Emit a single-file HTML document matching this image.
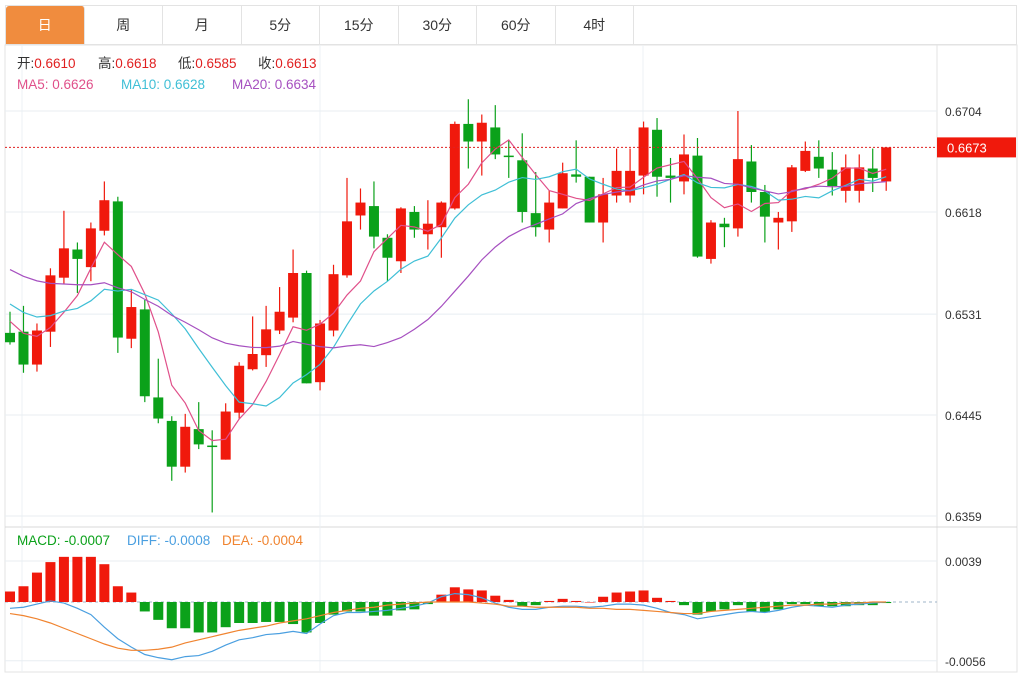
<!DOCTYPE html>
<html><head><meta charset="utf-8">
<style>
body{margin:0;background:#fff;width:1029px;height:678px;overflow:hidden;font-family:"Liberation Sans","Noto Sans CJK SC",sans-serif;}
#tabs{position:absolute;left:5px;top:5px;height:40px;width:1012px;border:1px solid #e3e3e3;border-bottom:1px solid #e3e3e3;box-sizing:border-box;display:flex;}
.tab{width:78.5px;height:38px;line-height:38px;text-align:center;font-size:14px;color:#333;border-right:1px solid #e3e3e3;box-sizing:border-box;}
.tab.on{background:#f08c3e;color:#fff;border-radius:3px 3px 0 0;}
svg{position:absolute;left:0;top:0;}
</style></head><body>
<div id="tabs">
<div class="tab on">日</div>
<div class="tab">周</div>
<div class="tab">月</div>
<div class="tab">5分</div>
<div class="tab">15分</div>
<div class="tab">30分</div>
<div class="tab">60分</div>
<div class="tab">4时</div>
</div>
<svg id="chart" width="1029" height="678"></svg>
<script>
const opens=[6515,6516,6488,6516,6562,6586,6571,6602,6627,6510,6535,6460,6440,6401,6433,6419,6407,6447,6484,6496,6517,6528,6566,6473,6517,6564,6615,6623,6596,6576,6618,6599,6605,6621,6693,6678,6690,6666,6662,6617,6603,6621,6650,6648,6609,6632,6632,6649,6688,6649,6644,6666,6578,6608,6604,6661,6635,6609,6610,6653,6665,6654,6636,6636,6655,6644];
const highs=[6533,6538,6523,6570,6619,6592,6609,6644,6631,6552,6543,6493,6444,6446,6456,6432,6455,6490,6529,6538,6554,6586,6568,6526,6573,6647,6638,6644,6599,6622,6623,6628,6627,6695,6714,6701,6709,6679,6685,6652,6636,6660,6679,6648,6647,6672,6672,6695,6698,6664,6684,6681,6611,6613,6704,6675,6641,6618,6658,6678,6679,6669,6667,6667,6672,6673];
const lows=[6505,6481,6482,6503,6557,6549,6559,6598,6498,6502,6456,6438,6389,6396,6416,6362,6407,6442,6483,6486,6514,6524,6472,6466,6512,6562,6603,6587,6559,6566,6596,6586,6579,6620,6655,6649,6663,6647,6609,6597,6592,6621,6643,6609,6592,6626,6626,6633,6631,6626,6633,6579,6574,6588,6597,6626,6592,6586,6601,6652,6647,6632,6626,6626,6635,6636];
const closes=[6507,6488,6517,6564,6587,6578,6604,6628,6511,6537,6461,6442,6401,6435,6420,6418,6448,6487,6497,6518,6533,6566,6472,6523,6565,6610,6626,6597,6579,6621,6603,6608,6626,6693,6678,6694,6667,6665,6618,6605,6626,6651,6648,6609,6633,6653,6653,6690,6648,6647,6667,6580,6609,6605,6663,6635,6614,6613,6656,6670,6655,6640,6656,6656,6647,6673];
const prevCloses=[6603,6594,6607,6598,6590,6604,6594,6598,6604,6590,6560,6556,6552,6548,6556,6539,6530,6526,6522];
const macdHist=[10,15,28,38,43,43,43,36,15,9,-9,-17,-25,-25,-29,-29,-24,-20,-20,-19,-19,-21,-29,-20,-12,-9,-9,-13,-13,-8,-7,-2,7,14,12,11,6,2,-4,-3,1,3,1,0,5,9,10,11,4,1,-3,-12,-9,-7,-3,-9,-10,-7,-2,-2,-4,-4,-4,-3,-3,-1];
const diffLine=[-6,-5,-2,1,-1,-6,-12,-24,-35,-43,-50,-53,-55,-52,-51,-47,-41,-36,-34,-31,-30,-28,-30,-21,-13,-10,-10,-9,-8,-6,-4,-1,5,8,7,4,-1,-5,-7,-7,-5,-4,-4,-5,-4,-2,-2,-3,-6,-10,-12,-16,-14,-12,-10,-9,-10,-8,-5,-3,-4,-5,-3,-2,-1,0];
const deaLine=[-11,-13,-16,-20,-25,-30,-35,-40,-44,-46,-46,-45,-43,-39,-36,-33,-30,-27,-25,-23,-20,-18,-16,-13,-10,-8,-6,-5,-3,-2,-1,0,0,0,0,-1,-2,-4,-4,-5,-5,-5,-5,-6,-6,-7,-7,-8,-9,-10,-11,-11,-9,-8,-7,-6,-5,-4,-3,-3,-2,-2,-1,-1,0,0];
const priceTicks=[6704,6618,6531,6445,6359];
const macdTicks=[39,-56];
const lastPrice=6673;

const svg=document.getElementById('chart');
const NS='http://www.w3.org/2000/svg';
const RED='#f0190c',GREEN='#0ba11a';
const L=5,R=937;
const xAt=i=>10+i*13.48;
const yP=v=>111+(6704-v)*1.1739;
const yM=v=>602-v*1.05;
function mk(tag,attrs,parent){const e=document.createElementNS(NS,tag);for(const k in attrs)e.setAttribute(k,attrs[k]);(parent||svg).appendChild(e);return e;}
function fmt(v){return (v/10000).toFixed(4);}

let e=mk('rect',{x:5,y:45,width:1012,height:627,fill:'none',stroke:'#e3e3e3'});


e=mk('line',{x1:R,y1:45,x2:R,y2:672,stroke:'#e3e3e3'});


e=mk('line',{x1:L,y1:527,x2:1017,y2:527,stroke:'#d8d8d8'});


[22,320,643].forEach(x=>{const g=mk('line',{x1:x,y1:45,x2:x,y2:672,stroke:'#edf1f4'});

});
priceTicks.forEach(t=>{const y=yP(t);
const g=mk('line',{x1:L,y1:y,x2:R,y2:y,stroke:'#e8eef2'});


const tx=mk('text',{x:945,y:y+5,'font-size':12,fill:'#333'});tx.textContent=fmt(t);

});
macdTicks.forEach(t=>{const y=yM(t);
const g=mk('line',{x1:L,y1:y,x2:R,y2:y,stroke:'#e8eef2'});


const tx=mk('text',{x:945,y:y+5,'font-size':12,fill:'#333'});tx.textContent=(t/10000).toFixed(4);

});
e=mk('line',{x1:L,y1:yM(0),x2:R,y2:yM(0),stroke:'#9fb4c8','stroke-dasharray':'3,3'});



closes.forEach((c,i)=>{const o=opens[i],up=c>=o,col=up?RED:GREEN,x=xAt(i);
const g=mk('g',{});


mk('line',{x1:x,y1:yP(highs[i]),x2:x,y2:yP(lows[i]),stroke:col,'stroke-width':1.2},g);
const t=yP(Math.max(o,c)),b=yP(Math.min(o,c));
mk('rect',{x:x-5,y:t,width:10,height:Math.max(b-t,1.5),fill:col},g);});

const all=prevCloses.concat(closes);
function ma(n){return closes.map((_,i)=>{const j=i+prevCloses.length;let s=0;for(let k=j-n+1;k<=j;k++)s+=all[k];return s/n;});}
[[5,'#e0508a','ma5-line'],[10,'#3fbfd6','ma10-line'],[20,'#a650c0','ma20-line']].forEach(([n,col,name])=>{
const pts=ma(n).map((v,i)=>xAt(i)+','+yP(v)).join(' ');
const p=mk('polyline',{points:pts,fill:'none',stroke:col,'stroke-width':1.2});

});

e=mk('line',{x1:L,y1:yP(lastPrice),x2:R,y2:yP(lastPrice),stroke:'#e02020','stroke-dasharray':'2,2'});


e=mk('rect',{x:R,y:yP(lastPrice)-10,width:79,height:20,fill:'#f0190c'});


e=mk('text',{x:947,y:yP(lastPrice)+5,'font-size':13,fill:'#fff'});e.textContent=fmt(lastPrice);



macdHist.forEach((v,i)=>{const x=xAt(i),y0=yM(0),y1=yM(v);
const r=mk('rect',{x:x-5,y:Math.min(y0,y1),width:10,height:Math.max(Math.abs(y1-y0),0.5),fill:v>=0?RED:GREEN});

});
[[diffLine,'#4a9fe0','diff-line'],[deaLine,'#f08430','dea-line']].forEach(([arr,col,name])=>{
const p=mk('polyline',{points:arr.map((v,i)=>xAt(i)+','+yM(v)).join(' '),fill:'none',stroke:col,'stroke-width':1.2});

});

function item(x,y,parts,name){const t=mk('text',{x:x,y:y,'font-size':13.5});


parts.forEach(([s,c])=>{const ts=mk('tspan',{fill:c},t);ts.textContent=s;});}
item(17,68,[['开:','#333'],['0.6610','#e02020']],'open-legend');
item(98,68,[['高:','#333'],['0.6618','#e02020']],'high-legend');
item(178,68,[['低:','#333'],['0.6585','#e02020']],'low-legend');
item(258,68,[['收:','#333'],['0.6613','#e02020']],'close-legend');
item(17,89,[['MA5: 0.6626','#e0508a']],'ma5-legend');
item(121,89,[['MA10: 0.6628','#3fbfd6']],'ma10-legend');
item(232,89,[['MA20: 0.6634','#a650c0']],'ma20-legend');
item(17,545,[['MACD: -0.0007','#0ba11a']],'macd-legend');
item(127,545,[['DIFF: -0.0008','#4a9fe0']],'diff-legend');
item(222,545,[['DEA: -0.0004','#f08430']],'dea-legend');
</script>
</body></html>
